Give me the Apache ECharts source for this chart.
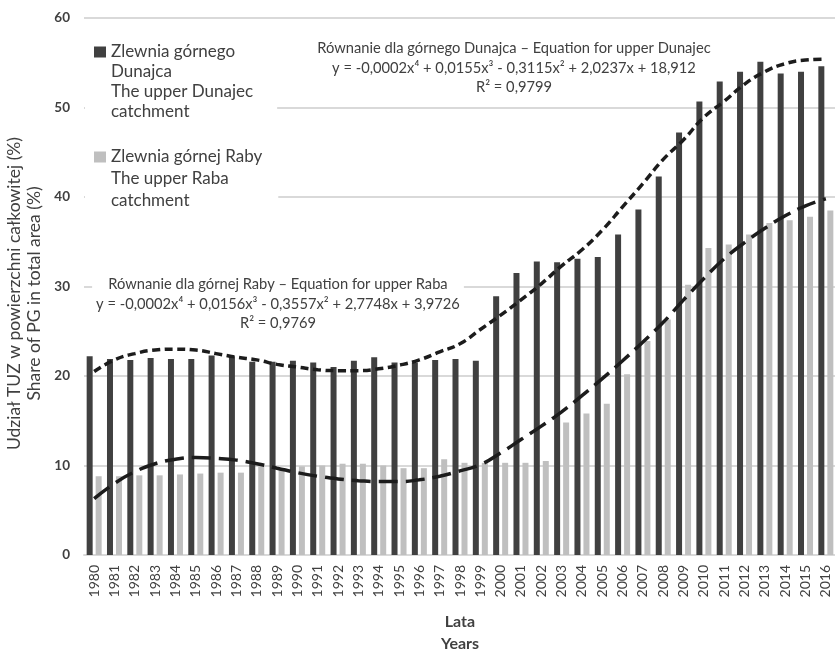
<!DOCTYPE html>
<html>
<head>
<meta charset="utf-8">
<script src="https://cdn.jsdelivr.net/npm/echarts@6/dist/echarts.min.js"></script>
<style>
  html, body { margin: 0; padding: 0; background: #fff; }
  #chart { width: 835px; height: 652px; }
</style>
</head>
<body>
<div id="chart"></div>
<script>
// Years on the category axis
const years = ['1980','1981','1982','1983','1984','1985','1986','1987','1988','1989',
  '1990','1991','1992','1993','1994','1995','1996','1997','1998','1999',
  '2000','2001','2002','2003','2004','2005','2006','2007','2008','2009',
  '2010','2011','2012','2013','2014','2015','2016'];

// Share of PG in total area (%) — upper Dunajec catchment
const dunajec = [22.2, 21.9, 21.8, 22.0, 21.9, 21.9, 22.3, 22.2, 21.6, 21.6,
  21.7, 21.5, 21.0, 21.7, 22.1, 21.5, 21.5, 21.8, 21.9, 21.7,
  28.9, 31.5, 32.8, 32.7, 33.1, 33.3, 35.8, 38.6, 42.3, 47.2,
  50.9, 52.9, 54.0, 55.1, 53.8, 54.0, 54.6];

// Share of PG in total area (%) — upper Raba catchment
const raba = [8.8, 8.8, 8.9, 8.9, 9.0, 9.1, 9.2, 9.2, 9.9, 9.7,
  9.9, 10.0, 10.2, 10.2, 10.0, 9.7, 9.7, 10.7, 10.3, 10.3,
  10.3, 10.3, 10.5, 14.8, 15.8, 16.9, 20.2, 23.9, 26.3, 30.2,
  34.3, 34.7, 35.8, 37.1, 37.4, 37.8, 38.5];

// Polynomial (4th degree) trend curves, value per year
const dunajecTrend = [20.5, 21.8, 22.5, 22.9, 23.0, 22.9, 22.5, 22.1, 21.8, 21.3,
  21.0, 20.7, 20.6, 20.6, 20.8, 21.2, 21.8, 22.7, 23.6, 25.2,
  26.8, 28.5, 30.3, 32.3, 34.1, 36.3, 38.9, 41.5, 44.2, 46.4,
  48.9, 50.7, 52.6, 54.0, 54.9, 55.3, 55.4];

const rabaTrend = [6.3, 8.0, 9.3, 10.2, 10.7, 10.9, 10.8, 10.6, 10.2, 9.7,
  9.2, 8.8, 8.5, 8.3, 8.2, 8.2, 8.4, 8.8, 9.4, 10.1,
  11.4, 12.9, 14.4, 16.0, 17.8, 19.7, 21.7, 23.8, 26.0, 28.5,
  30.9, 33.1, 34.9, 36.5, 37.9, 39.0, 39.8];

// Value axis ticks
const yTicks = { min: 0, max: 60, interval: 10 };

const nameDunajec = 'Zlewnia górnego\nDunajca\nThe upper Dunajec\ncatchment';
const nameRaba = 'Zlewnia górnej Raby\nThe upper Raba\ncatchment';

const eqDunajec = 'Równanie dla górnego Dunajca – Equation for upper Dunajec\n' +
  'y = -0,0002x⁴ + 0,0155x³ - 0,3115x² + 2,0237x + 18,912\nR² = 0,9799';
const eqRaba = 'Równanie dla górnej Raby – Equation for upper Raba\n' +
  'y = -0,0002x⁴ + 0,0156x³ - 0,3557x² + 2,7748x + 3,9726\nR² = 0,9769';

const FONT = 'Lato, "Open Sans", "Liberation Sans", sans-serif';
const DARK = '#404040';
const LIGHT = '#bfbfbf';
const TEXT = '#404040';

const chart = echarts.init(document.getElementById('chart'), null, { renderer: 'canvas' });

function legendBlock(name, color, top, lines, lineH, padRight) {
  const h = lines * lineH;
  const sqTop = lineH / 2 - 5.5;
  return {
    data: [name],
    orient: 'vertical',
    left: 85,
    top: top,
    padding: [8, padRight, 8, 9],
    backgroundColor: '#ffffff',
    itemWidth: 12,
    itemHeight: h,
    // square at the first text line; the bare move-to stretches the box to the text height
    icon: 'path://M0,' + sqTop + 'h12v11h-12zM0,0M12,' + h,
    selectedMode: false,
    textStyle: { fontFamily: FONT, fontSize: 17, color: TEXT, lineHeight: lineH }
  };
}

const option = {
  animation: false,
  backgroundColor: '#ffffff',
  textStyle: { fontFamily: FONT },
  grid: { left: 84, right: -1, top: 18, bottom: 97, containLabel: false, outerBoundsMode: 'none' },
  legend: [
    legendBlock(nameDunajec, DARK, 34, 4, 20, 24),
    legendBlock(nameRaba, LIGHT, 138, 3, 22, 16)
  ],
  xAxis: {
    type: 'category',
    data: years,
    boundaryGap: true,
    axisLine: { show: true, lineStyle: { color: '#d9d9d9', width: 2 } },
    axisTick: { show: false },
    axisLabel: { rotate: 90, fontSize: 14, color: TEXT, margin: 10, interval: 0, fontFamily: FONT },
    splitLine: { show: false },
    name: 'Lata\nYears',
    nameLocation: 'middle',
    nameGap: 56,
    nameMoveOverlap: false,
    nameTextStyle: { fontFamily: FONT, fontSize: 16, fontWeight: 'bold', color: TEXT, lineHeight: 22, verticalAlign: 'top' }
  },
  yAxis: {
    type: 'value',
    min: yTicks.min,
    max: yTicks.max,
    interval: yTicks.interval,
    axisLine: { show: false },
    axisTick: { show: false },
    axisLabel: { fontSize: 13.5, fontWeight: 'bold', color: TEXT, margin: 14, fontFamily: FONT },
    splitLine: { show: true, lineStyle: { color: '#d9d9d9', width: 2 } },
    name: 'Udział TUZ w powierzchni całkowitej (%)\nShare of PG in total area (%)',
    nameLocation: 'middle',
    nameRotate: 90,
    nameGap: 40,
    nameMoveOverlap: false,
    nameTextStyle: { fontFamily: FONT, fontSize: 17.5, color: TEXT, lineHeight: 20, padding: [0, 14, 0, 0] }
  },
  graphic: [
    {
      type: 'text', x: 514, y: 37, z: 3,
      style: {
        text: eqDunajec, align: 'center', verticalAlign: 'top',
        font: '14.7px ' + FONT, lineHeight: 19.5, fill: TEXT,
        backgroundColor: '#ffffff', padding: [2, 4, 4, 4]
      }
    },
    {
      type: 'text', x: 278, y: 273, z: 3,
      style: {
        text: eqRaba, align: 'center', verticalAlign: 'top',
        font: '14.7px ' + FONT, lineHeight: 19.5, fill: TEXT,
        backgroundColor: '#ffffff', padding: [2, 4, 4, 4]
      }
    }
  ],
  series: [
    {
      name: nameDunajec,
      type: 'bar',
      data: dunajec,
      barWidth: 6,
      barGap: '50%',
      itemStyle: { color: DARK },
      z: 2
    },
    {
      name: nameRaba,
      type: 'bar',
      data: raba,
      barWidth: 6,
      barGap: '50%',
      itemStyle: { color: LIGHT },
      z: 2
    },
    {
      name: 'Trend – górny Dunajec',
      type: 'line',
      data: dunajecTrend,
      smooth: 0.5,
      symbol: 'none',
      lineStyle: { color: '#1c1c1c', width: 3.5, type: [8, 4.5], cap: 'butt' },
      z: 4
    },
    {
      name: 'Trend – górna Raba',
      type: 'line',
      data: rabaTrend,
      smooth: 0.5,
      symbol: 'none',
      lineStyle: { color: '#1c1c1c', width: 3.5, type: [19, 8], cap: 'butt' },
      z: 4
    }
  ]
};

chart.setOption(option);
</script>
</body>
</html>
